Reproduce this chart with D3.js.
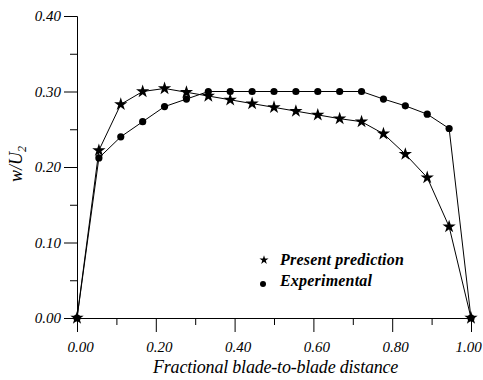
<!DOCTYPE html>
<html>
<head>
<meta charset="utf-8">
<script src="https://cdn.jsdelivr.net/npm/d3@7"></script>
<style>
body { margin: 0; background: #fff; }
</style>
</head>
<body>
<div id="chart"></div>
<script>
// fractional blade-to-blade distance, 19 stations
const xs = d3.range(19).map(i => i / 18);
const prediction = [0, 0.222, 0.283, 0.300, 0.304, 0.299, 0.294, 0.289, 0.284, 0.279,
	0.274, 0.269, 0.264, 0.260, 0.244, 0.217, 0.186, 0.121, 0];
const experimental = [0, 0.212, 0.240, 0.260, 0.280, 0.290, 0.300, 0.300, 0.300, 0.300,
	0.300, 0.300, 0.300, 0.300, 0.290, 0.281, 0.270, 0.251, 0];
const xTicks = [0, 0.2, 0.4, 0.6, 0.8, 1.0];
const yTicks = [0, 0.1, 0.2, 0.3, 0.4];

const width = 483, height = 380;
const margin = {left: 77, top: 16, right: 12, bottom: 62};
const serif = "'Liberation Serif', 'Times New Roman', Times, serif";

const svg = d3.select('#chart')
	.append('svg')
	.attr('width', width)
	.attr('height', height)
	.attr('font-family', serif)
	.attr('font-style', 'italic');

const x = d3.scaleLinear()
	.domain([0, 1])
	.range([margin.left, margin.left + 394]);
const y = d3.scaleLinear()
	.domain([0, 0.4])
	.range([height - margin.bottom, margin.top]);

// x axis: major ticks with labels, minor in between
const xAxis = svg.append('g')
	.attr('transform', `translate(0,${y(0)})`)
	.call(d3.axisBottom(x).tickValues(xTicks).tickSize(14).tickFormat(d3.format('.2f')));
svg.append('g')
	.attr('transform', `translate(0,${y(0)})`)
	.call(d3.axisBottom(x).tickValues([0.1, 0.3, 0.5, 0.7, 0.9]).tickSize(7).tickFormat(''))
	.select('.domain').remove();

const yAxis = svg.append('g')
	.attr('transform', `translate(${x(0)},0)`)
	.call(d3.axisLeft(y).tickValues(yTicks).tickSize(13).tickFormat(d3.format('.2f')));
svg.append('g')
	.attr('transform', `translate(${x(0)},0)`)
	.call(d3.axisLeft(y).tickValues([0.05, 0.15, 0.25, 0.35]).tickSize(7).tickFormat(''))
	.select('.domain').remove();

svg.selectAll('g').attr('font-family', serif);
svg.selectAll('.domain').attr('stroke', '#000');
svg.selectAll('.tick line').attr('stroke', '#000');

xAxis.selectAll('text')
	.attr('font-family', serif)
	.attr('font-style', 'italic')
	.attr('font-size', 15)
	.attr('y', 23)
	.attr('dx', d => d === 1 ? -3 : 3)
	.attr('fill', '#000');
yAxis.selectAll('text')
	.attr('font-family', serif)
	.attr('font-style', 'italic')
	.attr('font-size', 15)
	.attr('x', -16)
	.attr('fill', '#000');

// lines
const line = d3.line()
	.x((d, i) => x(xs[i]))
	.y(d => y(d));

svg.append('path')
	.datum(experimental)
	.attr('d', line)
	.attr('fill', 'none')
	.attr('stroke', '#000')
	.attr('stroke-width', 1);
svg.append('path')
	.datum(prediction)
	.attr('d', line)
	.attr('fill', 'none')
	.attr('stroke', '#000')
	.attr('stroke-width', 1);

// markers
svg.append('g')
	.selectAll('circle')
	.data(experimental)
	.enter()
	.append('circle')
	.attr('cx', (d, i) => x(xs[i]))
	.attr('cy', d => y(d))
	.attr('r', 3.6)
	.attr('fill', '#000');

const star = d3.symbol().type(d3.symbolStar).size(55);
svg.append('g')
	.selectAll('path')
	.data(prediction)
	.enter()
	.append('path')
	.attr('d', star)
	.attr('transform', (d, i) => `translate(${x(xs[i])},${y(d)})`)
	.attr('fill', '#000');

// legend
const legend = svg.append('g');
legend.append('path')
	.attr('d', d3.symbol().type(d3.symbolStar).size(26))
	.attr('transform', 'translate(264,260)')
	.attr('fill', '#000');
legend.append('circle')
	.attr('cx', 263)
	.attr('cy', 284)
	.attr('r', 3)
	.attr('fill', '#000');
legend.append('text')
	.attr('x', 280)
	.attr('y', 265)
	.attr('font-size', 16)
	.attr('font-weight', 'bold')
	.attr('letter-spacing', 0.2)
	.text('Present prediction');
legend.append('text')
	.attr('x', 280)
	.attr('y', 286)
	.attr('font-size', 16)
	.attr('font-weight', 'bold')
	.attr('letter-spacing', 0.2)
	.text('Experimental');

// axis titles
svg.append('text')
	.attr('x', 153)
	.attr('y', 373)
	.attr('font-size', 18)
	.attr('letter-spacing', -0.2)
	.text('Fractional blade-to-blade distance');

const yTitle = svg.append('text')
	.attr('transform', 'translate(22,164) rotate(-90)')
	.attr('text-anchor', 'middle')
	.attr('font-size', 18);
yTitle.append('tspan').text('w/U');
yTitle.append('tspan').attr('font-size', 12).attr('dy', 4).text('2');
</script>
</body>
</html>
